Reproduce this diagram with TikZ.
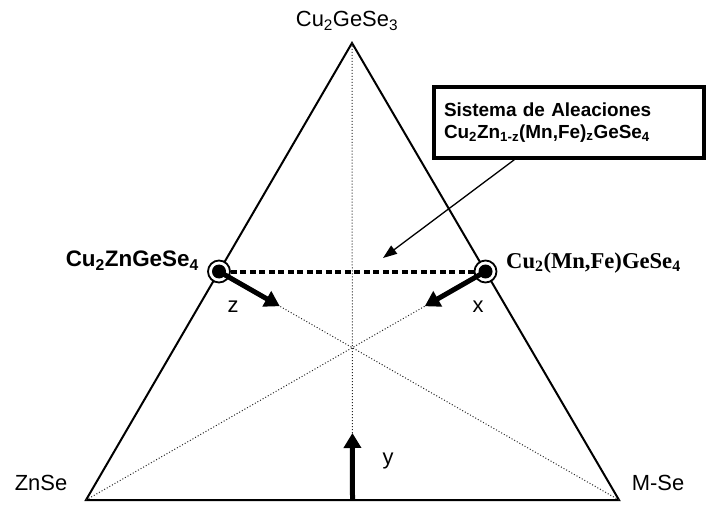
\documentclass[tikz,border=0pt]{standalone}
\usepackage{fontspec}
\setmainfont{Liberation Sans}
\newfontfamily\timesf{Liberation Serif}
\usetikzlibrary{arrows.meta,positioning,calc}

\begin{document}
\begin{tikzpicture}[x=1bp, y=-1bp,
  lbl/.style={font=\fontsize{22}{26}\selectfont, inner sep=0pt},
  cmp/.style={font=\fontsize{22.5}{26}\selectfont\bfseries, inner sep=0pt},
  ring/.style={circle, draw, line width=1.8bp, minimum size=22bp, inner sep=0pt, fill=white,
    path picture={\fill[black] (path picture bounding box.center) circle (7bp);}},
  fine/.style={dotted, line width=1bp, black!85},
  big/.style={line width=5bp, -{Triangle[length=15bp,width=17bp]}}]
\useasboundingbox (0,0) rectangle (710,508);
% Vertices
\coordinate (top) at (352,43);
\coordinate (zn) at (86,500);
\coordinate (mse) at (619,500);
\coordinate (base) at ($(zn)!0.5!(mse)$);
% Triangle and medians
\draw[line width=2bp] (top) -- (zn) -- (mse) -- cycle;
\draw[fine] (top) -- (base);
\draw[fine] (zn) -- ($(top)!0.5!(mse)$);
\draw[fine] (mse) -- ($(top)!0.5!(zn)$);
% Alloy end points
\node[ring] (czgs) at ($(top)!0.5!(zn)$) {};
\node[ring] (cmfgs) at ($(top)!0.5!(mse)$) {};
\draw[line width=4bp, dash pattern=on 6bp off 3.5bp] (czgs) -- (cmfgs);
% Labels
\node[lbl] (cgs) at (347,21) {Cu\textsubscript{2}GeSe\textsubscript{3}};
\node[lbl] (znse) at (41,483) {ZnSe};
\node[lbl] (mselbl) at (658,483) {M-Se};
\node[cmp, anchor=east] (czgslbl) at (199,261) {Cu\textsubscript{2}ZnGeSe\textsubscript{4}};
\node[cmp, font=\fontsize{22.7}{26}\selectfont\timesf\bfseries, anchor=west] (cmfgslbl) at (506,263) {Cu\textsubscript{2}(Mn,Fe)GeSe\textsubscript{4}};
% Alloy system box
\node[draw, line width=3.5bp, minimum width=270bp, minimum height=71bp, text width=250bp, align=left,
  font=\fontsize{19}{22}\selectfont\bfseries] (box) at (569,122.5)
  {Sistema de Aleaciones\\Cu\textsubscript{2}Zn\textsubscript{1-z}(Mn,Fe)\textsubscript{z}GeSe\textsubscript{4}};
\coordinate (ptr) at (383,258);
\draw[line width=1.3bp, -{Triangle[length=14bp,width=10bp]}] ($(box.south west)!0.3!(box.south east)$) -- (ptr);
% Composition arrows
\coordinate (ztip) at ($(czgs)!70bp!(mse)$);
\coordinate (xtip) at ($(cmfgs)!70bp!(zn)$);
\coordinate (ytip) at ($(base)!67bp!(top)$);
\draw[big] (czgs.center) -- (ztip);
\draw[big] (cmfgs.center) -- (xtip);
\draw[big] (base) -- (ytip);
\node[lbl] (zlbl) at (233,307) {z};
\node[lbl] (xlbl) at (478,307) {x};
\node[lbl] (ylbl) at (388,461) {y};
\end{tikzpicture}
\end{document}
